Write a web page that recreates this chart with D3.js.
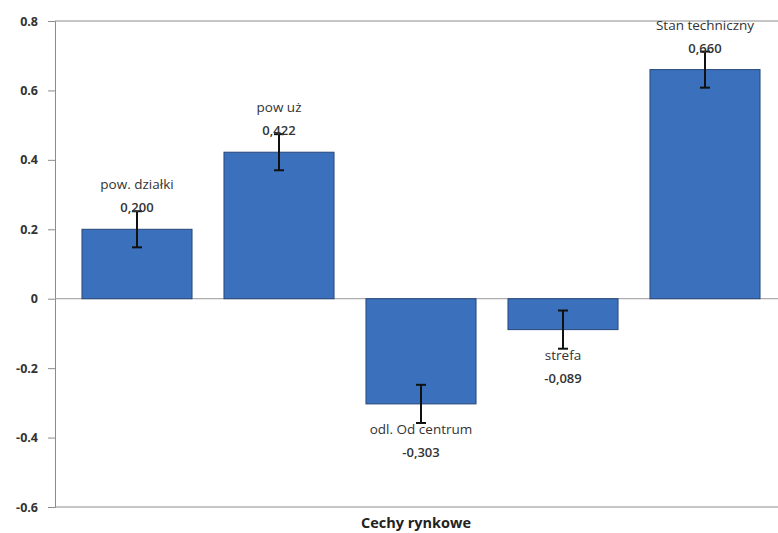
<!DOCTYPE html>
<html>
<head>
<meta charset="utf-8">
<script src="https://cdn.jsdelivr.net/npm/d3@7"></script>
<style>
  body { margin: 0; background: #fff; }
  svg text { font-family: "Open Sans", "Liberation Sans", sans-serif; }
</style>
</head>
<body>
<script>
var categories = ["pow. działki", "pow uż", "odl. Od centrum", "strefa", "Stan techniczny"];
var values = [0.200, 0.422, -0.303, -0.089, 0.660];
var valueLabels = ["0,200", "0,422", "-0,303", "-0,089", "0,660"];
var errors = [0.052, 0.052, 0.055, 0.055, 0.052];
var yTicks = [-0.6, -0.4, -0.2, 0, 0.2, 0.4, 0.6, 0.8];

var width = 778, height = 533;
var plotLeft = 55, plotRight = 778, plotTop = 21, plotBottom = 507;

var svg = d3.select("body").append("svg")
    .attr("width", width)
    .attr("height", height);

var y = d3.scaleLinear()
    .domain([-0.6, 0.8])
    .range([plotBottom, plotTop]);

var x = d3.scaleBand()
    .domain(categories)
    .range([66, 776])
    .paddingInner(0.225)
    .paddingOuter(0.1125);

// frame
svg.append("line")
    .attr("x1", plotLeft).attr("x2", plotRight)
    .attr("y1", plotTop).attr("y2", plotTop)
    .attr("stroke", "#8c8c8c").attr("stroke-width", 1);
svg.append("line")
    .attr("x1", plotLeft).attr("x2", plotRight)
    .attr("y1", plotBottom).attr("y2", plotBottom)
    .attr("stroke", "#8c8c8c").attr("stroke-width", 1);

// y axis
var yAxis = d3.axisLeft(y)
    .tickValues(yTicks)
    .tickSize(7)
    .tickPadding(10)
    .tickFormat(function(d) { return d === 0 ? "0" : d.toFixed(1); });

var ga = svg.append("g")
    .attr("transform", "translate(" + plotLeft + ",0)")
    .call(yAxis);
ga.select(".domain").attr("stroke", "#8c8c8c");
ga.selectAll(".tick line").attr("stroke", "#8c8c8c");
ga.selectAll(".tick text")
    .attr("fill", "#333")
    .style("font-size", "12.5px")
    .style("font-weight", "bold");

// zero line
svg.append("line")
    .attr("x1", plotLeft).attr("x2", plotRight)
    .attr("y1", y(0)).attr("y2", y(0))
    .attr("stroke", "#9a9a9a").attr("stroke-width", 1);

// bars
svg.selectAll(".bar")
    .data(values)
    .enter().append("rect")
    .attr("class", "bar")
    .attr("x", function(d, i) { return x(categories[i]); })
    .attr("width", x.bandwidth())
    .attr("y", function(d) { return y(Math.max(0, d)); })
    .attr("height", function(d) { return Math.abs(y(d) - y(0)); })
    .attr("fill", "#3b71bc")
    .attr("stroke", "#26467a")
    .attr("stroke-width", 1);

// error bars
var eb = svg.selectAll(".err")
    .data(values)
    .enter().append("g")
    .attr("class", "err")
    .attr("transform", function(d, i) {
        return "translate(" + (x(categories[i]) + x.bandwidth() / 2) + ",0)";
    });
eb.append("line")
    .attr("y1", function(d, i) { return y(d + errors[i]); })
    .attr("y2", function(d, i) { return y(d - errors[i]); })
    .attr("stroke", "#111").attr("stroke-width", 2);
eb.append("line")
    .attr("x1", -5).attr("x2", 5)
    .attr("y1", function(d, i) { return y(d + errors[i]); })
    .attr("y2", function(d, i) { return y(d + errors[i]); })
    .attr("stroke", "#111").attr("stroke-width", 2);
eb.append("line")
    .attr("x1", -5).attr("x2", 5)
    .attr("y1", function(d, i) { return y(d - errors[i]); })
    .attr("y2", function(d, i) { return y(d - errors[i]); })
    .attr("stroke", "#111").attr("stroke-width", 2);

// labels
var lab = svg.selectAll(".lab")
    .data(values)
    .enter().append("g")
    .attr("class", "lab")
    .attr("transform", function(d, i) {
        return "translate(" + (x(categories[i]) + x.bandwidth() / 2) + "," + y(d) + ")";
    });
lab.append("text")
    .attr("text-anchor", "middle")
    .attr("dy", function(d) { return d >= 0 ? -40 : 30; })
    .attr("fill", "#333")
    .style("font-size", "13.5px")
    .text(function(d, i) { return categories[i]; });
lab.append("text")
    .attr("text-anchor", "middle")
    .attr("dy", function(d) { return d >= 0 ? -17 : 53; })
    .attr("fill", "#333")
    .style("font-size", "13px")
    .style("font-weight", "600")
    .text(function(d, i) { return valueLabels[i]; });

// x axis title
svg.append("text")
    .attr("x", 416)
    .attr("y", 528)
    .attr("text-anchor", "middle")
    .attr("fill", "#222")
    .style("font-size", "14.5px")
    .style("font-weight", "bold")
    .text("Cechy rynkowe");
</script>
</body>
</html>
